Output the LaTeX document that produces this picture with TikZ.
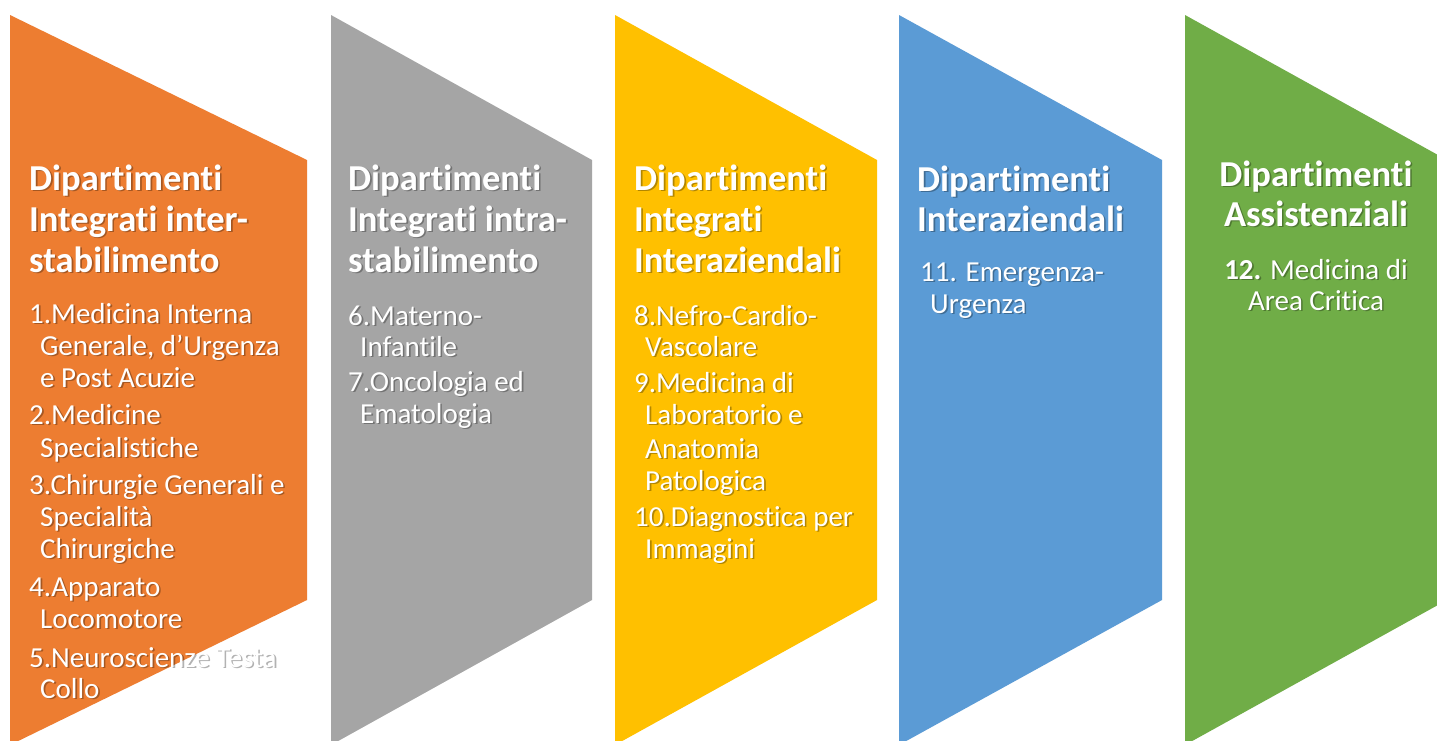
\documentclass[tikz,border=0pt]{standalone}
\usepackage{fontspec}
\setmainfont{Carlito}[Ligatures={NoCommon}]
\definecolor{cOrange}{HTML}{ED7D31}
\definecolor{cGray}{HTML}{A5A5A5}
\definecolor{cYellow}{HTML}{FFC000}
\definecolor{cBlue}{HTML}{5B9BD5}
\definecolor{cGreen}{HTML}{70AD47}
\tikzset{
  ttl/.style={anchor=base west, inner sep=0pt, font=\fontsize{36.5}{40}\selectfont\bfseries, text=white},
  itm/.style={anchor=base west, inner sep=0pt, font=\fontsize{29}{32}\selectfont, text=white},
  ttlc/.style={ttl, anchor=base},
  itmc/.style={itm, anchor=base},
  shd/.style={text=black, text opacity=0.3},
  panel/.style={draw=none},
}
\newcommand\txt[5]{%
  \node[#1,shd] (#2s) at (#3+1.6,#4+1.6) {#5};
  \node[#1] (#2) at (#3,#4) {#5};}
\begin{document}
\begin{tikzpicture}[x=1pt,y=-1pt]
\useasboundingbox (0,0) rectangle (1437,740);
\clip (0,0) rectangle (1437,740);
\fill[white] (0,0) rectangle (1437,740);
% panels
\fill[panel,cOrange] (10,15) -- (307,160) -- (307,600) -- (10,745) -- cycle;
\fill[panel,cGray]   (331,15) -- (592,160) -- (592,600) -- (331,745) -- cycle;
\fill[panel,cYellow] (615,15) -- (877,160) -- (877,600) -- (615,745) -- cycle;
\fill[panel,cBlue]   (899,15) -- (1162,160) -- (1162,600) -- (899,745) -- cycle;
\fill[panel,cGreen]  (1185,15) -- (1447,160) -- (1447,600) -- (1185,745) -- cycle;
% orange
\txt{ttl}{o1}{29}{190}{Dipartimenti}
\txt{ttl}{o2}{29}{231}{Integrati inter-}
\txt{ttl}{o3}{29}{272}{stabilimento}
\txt{itm}{oa}{29}{323}{1.Medicina Interna}
\txt{itm}{ob}{40}{355}{Generale, d’Urgenza}
\txt{itm}{oc}{40}{387}{e Post Acuzie}
\txt{itm}{od}{29}{424}{2.Medicine}
\txt{itm}{oe}{40}{457}{Specialistiche}
\txt{itm}{of}{29}{494}{3.Chirurgie Generali e}
\txt{itm}{og}{40}{526}{Specialità}
\txt{itm}{oh}{40}{558}{Chirurgiche}
\txt{itm}{oi}{29}{596}{4.Apparato}
\txt{itm}{oj}{40}{628}{Locomotore}
\txt{itm}{ok}{29}{667}{5.Neuroscienze Testa}
\txt{itm}{ol}{40}{698}{Collo}
% gray
\txt{ttl}{g1}{348}{190}{Dipartimenti}
\txt{ttl}{g2}{348}{231}{Integrati intra-}
\txt{ttl}{g3}{348}{272}{stabilimento}
\txt{itm}{ga}{348}{325}{6.Materno-}
\txt{itm}{gb}{360}{356}{Infantile}
\txt{itm}{gc}{348}{391}{7.Oncologia ed}
\txt{itm}{gd}{360}{423}{Ematologia}
% yellow
\txt{ttl}{y1}{634}{190}{Dipartimenti}
\txt{ttl}{y2}{634}{231}{Integrati}
\txt{ttl}{y3}{634}{272}{Interaziendali}
\txt{itm}{ya}{634}{325}{8.Nefro-Cardio-}
\txt{itm}{yb}{645}{356}{Vascolare}
\txt{itm}{yc}{634}{392}{9.Medicina di}
\txt{itm}{yd}{645}{424}{Laboratorio e}
\txt{itm}{ye}{645}{458}{Anatomia}
\txt{itm}{yf}{645}{490}{Patologica}
\txt{itm}{yg}{634}{526}{10.Diagnostica per}
\txt{itm}{yh}{645}{558}{Immagini}
% blue
\txt{ttl}{b1}{917}{191}{Dipartimenti}
\txt{ttl}{b2}{917}{231}{Interaziendali}
\txt{itm}{ba}{920}{281}{11. Emergenza-}
\txt{itm}{bb}{930}{313}{Urgenza}
% green
\txt{ttlc}{v1}{1316}{186}{Dipartimenti}
\txt{ttlc}{v2}{1316}{226}{Assistenziali}
\txt{itmc}{va}{1316}{279}{\textbf{12.} Medicina di}
\txt{itmc}{vb}{1316}{310}{Area Critica}
\end{tikzpicture}
\end{document}
